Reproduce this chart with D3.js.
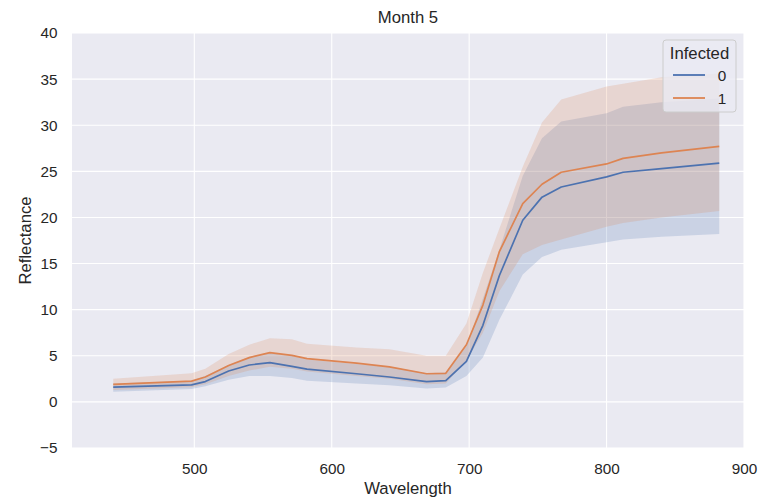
<!DOCTYPE html>
<html>
<head>
<meta charset="utf-8">
<script src="https://cdn.jsdelivr.net/npm/d3@7"></script>
<style>
  body { margin: 0; background: #fff; }
  text { font-family: "Liberation Sans", Arial, sans-serif; fill: #262626; }
</style>
</head>
<body>
<div id="chart"></div>
<script>
// datos (Month 5)
var wavelengths = [441, 498, 508, 525, 540, 555, 571, 582, 618, 642, 669, 683, 698, 710, 722, 739, 753, 767, 800, 812, 840, 882];

// Infected = 0
var mean0  = [1.6, 1.85, 2.2, 3.35, 4.0, 4.25, 3.85, 3.55, 3.05, 2.7, 2.2, 2.3, 4.4, 8.3, 13.7, 19.7, 22.2, 23.3, 24.4, 24.9, 25.3, 25.9];
var lower0 = [1.1, 1.4, 1.7, 2.4, 2.8, 2.8, 2.6, 2.3, 2.0, 1.8, 1.45, 1.55, 2.8, 4.8, 8.9, 13.8, 15.7, 16.5, 17.3, 17.6, 17.9, 18.2];
var upper0 = [2.0, 2.3, 2.8, 4.0, 4.9, 5.3, 5.0, 4.6, 4.1, 3.8, 3.1, 3.2, 6.0, 11.2, 16.5, 24.5, 28.6, 30.4, 31.3, 32.0, 32.5, 32.9];

// Infected = 1
var mean1  = [1.9, 2.25, 2.7, 3.95, 4.8, 5.35, 5.05, 4.7, 4.2, 3.8, 3.05, 3.1, 6.2, 10.5, 16.3, 21.5, 23.6, 24.9, 25.8, 26.4, 27.0, 27.7];
var lower1 = [1.3, 1.6, 1.9, 2.8, 3.4, 3.8, 3.6, 3.3, 2.8, 2.5, 1.9, 2.0, 4.5, 7.5, 12.0, 16.0, 17.0, 17.6, 19.0, 19.4, 20.0, 20.7];
var upper1 = [2.5, 3.1, 3.6, 5.2, 6.2, 6.9, 6.8, 6.3, 5.9, 5.7, 5.0, 5.0, 8.5, 14.0, 18.8, 25.5, 30.3, 32.8, 34.2, 34.5, 35.2, 35.6];

var groups = ['0', '1'];
var xTicks = [500, 600, 700, 800, 900];
var yTicks = [-5, 0, 5, 10, 15, 20, 25, 30, 35, 40];

var width = 762;
var height = 499;
var margin = {top: 33, right: 18, bottom: 51, left: 72};
var innerW = width - margin.left - margin.right;
var innerH = height - margin.top - margin.bottom;

var svg = d3.select('#chart')
    .append('svg')
    .attr('width', width)
    .attr('height', height);

var g = svg.append('g')
    .attr('transform', 'translate(' + margin.left + ',' + margin.top + ')');

var x = d3.scaleLinear().domain([411, 900]).range([0, innerW]);
var y = d3.scaleLinear().domain([-5, 40]).range([innerH, 0]);

var color = d3.scaleOrdinal().domain(groups).range(['#4C72B0', '#DD8452']);

// fondo estilo seaborn darkgrid
g.append('rect')
    .attr('width', innerW)
    .attr('height', innerH)
    .attr('fill', '#EAEAF2');

// rejilla
g.append('g')
    .selectAll('line')
    .data(xTicks)
    .enter()
    .append('line')
    .attr('x1', (d) => x(d)).attr('x2', (d) => x(d))
    .attr('y1', 0).attr('y2', innerH)
    .attr('stroke', '#fff')
    .attr('stroke-width', 1.1);

g.append('g')
    .selectAll('line')
    .data(yTicks)
    .enter()
    .append('line')
    .attr('x1', 0).attr('x2', innerW)
    .attr('y1', (d) => y(d)).attr('y2', (d) => y(d))
    .attr('stroke', '#fff')
    .attr('stroke-width', 1.1);

// ejes (sin lineas, solo etiquetas)
var xAxis = g.append('g')
    .attr('transform', 'translate(0,' + innerH + ')')
    .call(d3.axisBottom(x).tickValues(xTicks).tickSize(0).tickPadding(15));
var yAxis = g.append('g')
    .call(d3.axisLeft(y).tickValues(yTicks).tickSize(0).tickPadding(14.5)
        .tickFormat((d) => d < 0 ? '\u2212' + Math.abs(d) : d));

[xAxis, yAxis].forEach(function(ax) {
    ax.select('.domain').remove();
    ax.selectAll('text')
        .attr('fill', '#262626')
        .style('font-family', '"Liberation Sans", Arial, sans-serif')
        .style('font-size', '15.3px');
});

// series
var series = [
    {key: '0', mean: mean0, lower: lower0, upper: upper0},
    {key: '1', mean: mean1, lower: lower1, upper: upper1}
];

var area = d3.area()
    .x((d) => x(d.w))
    .y0((d) => y(d.lo))
    .y1((d) => y(d.hi));

var line = d3.line()
    .x((d) => x(d.w))
    .y((d) => y(d.v));

series.forEach(function(s) {
    var pts = wavelengths.map((w, i) => ({w: w, v: s.mean[i], lo: s.lower[i], hi: s.upper[i]}));
    g.append('path')
        .datum(pts)
        .attr('d', area)
        .attr('fill', color(s.key))
        .attr('fill-opacity', 0.2);
    s.pts = pts;
});

series.forEach(function(s) {
    g.append('path')
        .datum(s.pts)
        .attr('d', line)
        .attr('fill', 'none')
        .attr('stroke', color(s.key))
        .attr('stroke-width', 1.7)
        .attr('stroke-linejoin', 'round');
});

// titulos
svg.append('text')
    .attr('x', margin.left + innerW / 2)
    .attr('y', 23)
    .attr('text-anchor', 'middle')
    .style('font-size', '16.7px')
    .text('Month 5');

svg.append('text')
    .attr('x', margin.left + innerW / 2)
    .attr('y', 494)
    .attr('text-anchor', 'middle')
    .style('font-size', '16.7px')
    .text('Wavelength');

svg.append('text')
    .attr('transform', 'translate(31,' + (margin.top + innerH / 2) + ') rotate(-90)')
    .attr('text-anchor', 'middle')
    .style('font-size', '16.7px')
    .text('Reflectance');

// leyenda
var legend = svg.append('g').attr('transform', 'translate(663,40)');
legend.append('rect')
    .attr('width', 73)
    .attr('height', 72)
    .attr('rx', 3)
    .attr('fill', '#EAEAF2')
    .attr('fill-opacity', 0.8)
    .attr('stroke', '#cccccc');
legend.append('text')
    .attr('x', 36.5)
    .attr('y', 19)
    .attr('text-anchor', 'middle')
    .style('font-size', '16.7px')
    .text('Infected');

var items = legend.selectAll('g.item')
    .data(groups)
    .enter()
    .append('g')
    .attr('transform', (d, i) => 'translate(0,' + (35 + i * 23) + ')');
items.append('line')
    .attr('x1', 10).attr('x2', 42)
    .attr('stroke', (d) => color(d))
    .attr('stroke-width', 1.8);
items.append('text')
    .attr('x', 59)
    .attr('y', 5.5)
    .attr('text-anchor', 'middle')
    .style('font-size', '15.3px')
    .text((d) => d);
</script>
</body>
</html>
